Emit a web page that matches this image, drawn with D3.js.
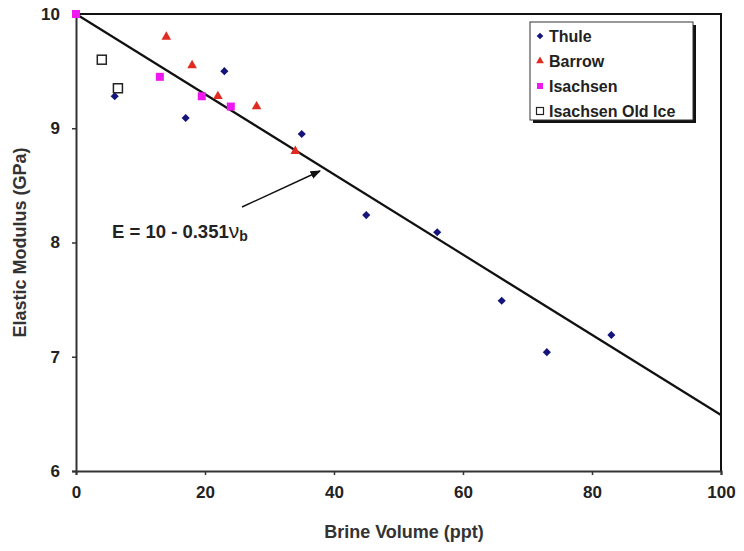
<!DOCTYPE html>
<html>
<head>
<meta charset="utf-8">
<script src="https://cdn.jsdelivr.net/npm/d3@7"></script>
<style>
  body { margin: 0; background: #fff; }
  text { font-family: Arial, "Liberation Sans", sans-serif; font-weight: bold; }
</style>
</head>
<body>
<div id="chart"></div>
<script>
// --- Data ---
const thuleX = [6, 17, 23, 35, 45, 56, 66, 73, 83];
const thuleY = [9.28, 9.09, 9.5, 8.95, 8.24, 8.09, 7.49, 7.04, 7.19];
const barrowX = [14, 18, 22, 28, 34];
const barrowY = [9.8, 9.55, 9.28, 9.19, 8.8];
const isachsenX = [0, 13, 19.5, 24];
const isachsenY = [10, 9.45, 9.28, 9.19];
const oldIceX = [4, 6.5];
const oldIceY = [9.6, 9.35];
const xTicks = [0, 20, 40, 60, 80, 100];
const yTicks = [6, 7, 8, 9, 10];
// fit line, brine volume in ppt (label uses 0.351 per percent)
const fitIntercept = 10;
const fitSlope = -0.0351;
const legendLabels = ["Thule", "Barrow", "Isachsen", "Isachsen Old Ice"];

const width = 744, height = 551;
const margin = { left: 76, top: 14, right: 23, bottom: 80 };

const svg = d3.select("#chart").append("svg")
  .attr("width", width)
  .attr("height", height);

const x = d3.scaleLinear().domain([0, 100]).range([margin.left, width - margin.right]);
const y = d3.scaleLinear().domain([6, 10]).range([height - margin.bottom, margin.top]);

// frame (top and right)
svg.append("path")
  .attr("d", `M${x(0)},${y(10)}H${x(100)}V${y(6)}`)
  .attr("fill", "none")
  .attr("stroke", "#111")
  .attr("stroke-width", 2);

// --- Axes ---
const xAxis = svg.append("g")
  .attr("transform", `translate(0,${y(6)})`)
  .call(d3.axisBottom(x).tickValues(xTicks).tickFormat(d3.format("d")).tickSize(4).tickPadding(11));
const yAxis = svg.append("g")
  .attr("transform", `translate(${x(0)},0)`)
  .call(d3.axisLeft(y).tickValues(yTicks).tickFormat(d3.format("d")).tickSize(4).tickPadding(12));

[xAxis, yAxis].forEach((ax) => {
  ax.select(".domain").attr("stroke", "#333").attr("stroke-width", 2);
  ax.selectAll(".tick line").attr("stroke", "#333").attr("stroke-width", 1.5);
  ax.selectAll(".tick text")
    .attr("fill", "#222")
    .style("font-size", "17px")
    .style("font-weight", "bold");
});

svg.append("text")
  .attr("x", 404)
  .attr("y", 538)
  .attr("text-anchor", "middle")
  .attr("fill", "#333")
  .style("font-size", "18px")
  .text("Brine Volume (ppt)");

svg.append("text")
  .attr("transform", `translate(26,${(y(6) + y(10)) / 2}) rotate(-90)`)
  .attr("text-anchor", "middle")
  .attr("fill", "#333")
  .style("font-size", "18px")
  .text("Elastic Modulus (GPa)");

// --- Fit line ---
const fit = (v) => fitIntercept + fitSlope * v;
svg.append("line")
  .attr("x1", x(0)).attr("y1", y(fit(0)))
  .attr("x2", x(100)).attr("y2", y(fit(100)))
  .attr("stroke", "#111")
  .attr("stroke-width", 2.2);

// --- Points ---
const zip = (xs, ys) => xs.map((v, i) => [v, ys[i]]);

svg.append("g").selectAll("path")
  .data(zip(thuleX, thuleY))
  .join("path")
  .attr("transform", (d) => `translate(${x(d[0])},${y(d[1])})`)
  .attr("d", d3.symbol(d3.symbolDiamond2, 42))
  .attr("fill", "#14147a");

svg.append("g").selectAll("path")
  .data(zip(barrowX, barrowY))
  .join("path")
  .attr("transform", (d) => `translate(${x(d[0])},${y(d[1])})`)
  .attr("d", d3.symbol(d3.symbolTriangle, 40))
  .attr("fill", "#e02a22");

svg.append("g").selectAll("rect")
  .data(zip(isachsenX, isachsenY))
  .join("rect")
  .attr("x", (d) => x(d[0]) - 4)
  .attr("y", (d) => y(d[1]) - 4)
  .attr("width", 8)
  .attr("height", 8)
  .attr("fill", "#f018f0");

svg.append("g").selectAll("rect")
  .data(zip(oldIceX, oldIceY))
  .join("rect")
  .attr("x", (d) => x(d[0]) - 4.5)
  .attr("y", (d) => y(d[1]) - 4.5)
  .attr("width", 9)
  .attr("height", 9)
  .attr("fill", "#fff")
  .attr("stroke", "#222")
  .attr("stroke-width", 1.5);

// --- Annotation ---
const note = svg.append("text")
  .attr("x", 112)
  .attr("y", 238)
  .attr("fill", "#222")
  .style("font-size", "18.5px");
note.append("tspan").text("E = 10 - 0.351");
note.append("tspan").style("font-weight", "normal").style("font-size", "21px").text("ν");
note.append("tspan").attr("dy", 3).style("font-size", "14px").text("b");

svg.append("defs").append("marker")
  .attr("id", "arrow")
  .attr("viewBox", "0 0 10 10")
  .attr("refX", 9).attr("refY", 5)
  .attr("markerWidth", 7).attr("markerHeight", 7)
  .attr("orient", "auto")
  .append("path")
  .attr("d", "M0,1L10,5L0,9Z")
  .attr("fill", "#111");

svg.append("line")
  .attr("x1", 242).attr("y1", 207)
  .attr("x2", 320).attr("y2", 171)
  .attr("stroke", "#111")
  .attr("stroke-width", 1.5)
  .attr("marker-end", "url(#arrow)");

// --- Legend ---
const lg = svg.append("g").attr("transform", "translate(530,22)");
lg.append("rect").attr("x", 3).attr("y", 3).attr("width", 163).attr("height", 98).attr("fill", "#111");
lg.append("rect").attr("width", 163).attr("height", 98).attr("fill", "#fff").attr("stroke", "#333").attr("stroke-width", 1);

const rows = lg.selectAll("g.row")
  .data(legendLabels)
  .join("g")
  .attr("class", "row")
  .attr("transform", (d, i) => `translate(0,${14 + i * 25})`);

rows.append("text")
  .attr("x", 19)
  .attr("y", 6)
  .attr("fill", "#222")
  .style("font-size", "16px")
  .text((d) => d);

rows.each(function (d, i) {
  const r = d3.select(this);
  if (i === 0) {
    r.append("path").attr("transform", "translate(10,0)").attr("d", d3.symbol(d3.symbolDiamond2, 28)).attr("fill", "#14147a");
  } else if (i === 1) {
    r.append("path").attr("transform", "translate(10,0)").attr("d", d3.symbol(d3.symbolTriangle, 26)).attr("fill", "#e02a22");
  } else if (i === 2) {
    r.append("rect").attr("x", 7).attr("y", -3).attr("width", 6).attr("height", 6).attr("fill", "#f018f0");
  } else {
    r.append("rect").attr("x", 6.5).attr("y", -3.5).attr("width", 7).attr("height", 7).attr("fill", "#fff").attr("stroke", "#222").attr("stroke-width", 1.2);
  }
});
</script>
</body>
</html>
